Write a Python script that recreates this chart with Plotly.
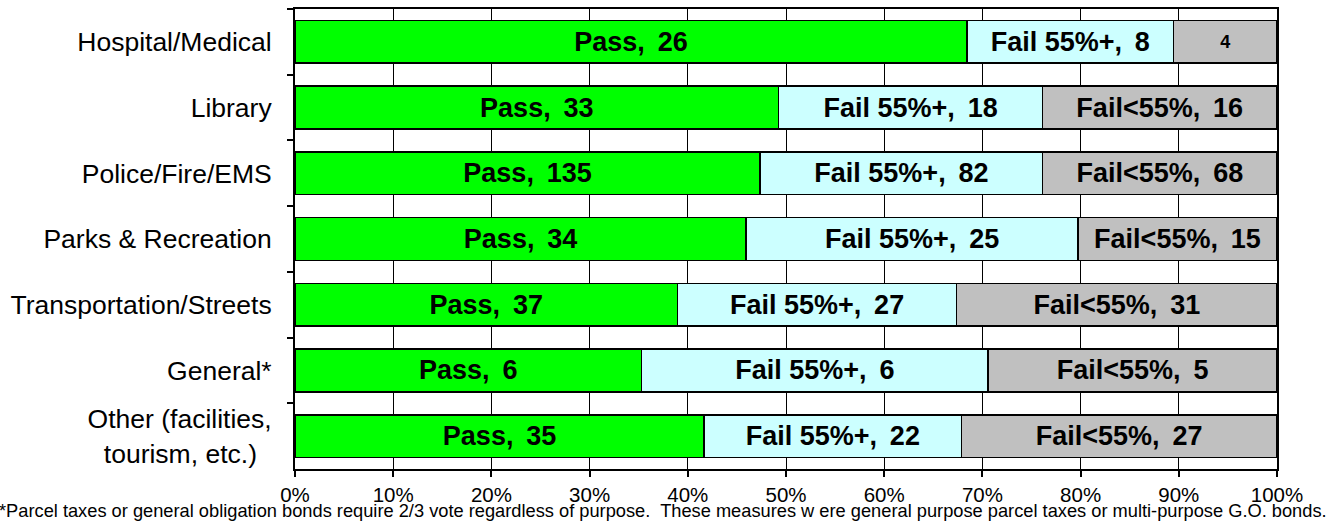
import plotly.graph_objects as go

categories = ["Hospital/Medical", "Library", "Police/Fire/EMS", "Parks & Recreation",
              "Transportation/Streets", "General*", "Other (facilities,<br>tourism, etc.)\u00a0\u00a0"]
pass_counts = [26, 33, 135, 34, 37, 6, 35]
fail55plus_counts = [8, 18, 82, 25, 27, 6, 22]
fail_lt55_counts = [4, 16, 68, 15, 31, 5, 27]

series_names = ["Pass", "Fail 55%+", "Fail<55%"]
series_colors = ["#00FF00", "#CCFFFF", "#C0C0C0"]
x_ticks = [0, 10, 20, 30, 40, 50, 60, 70, 80, 90, 100]
x_ticklabels = ["0%", "10%", "20%", "30%", "40%", "50%", "60%", "70%", "80%", "90%", "100%"]
footnote = ("*Parcel taxes or general obligation bonds require 2/3 vote regardless of purpose.  "
            "These measures w ere general purpose parcel taxes or multi-purpose G.O. bonds.")

FONT = "Liberation Sans, Arial, sans-serif"
fig = go.Figure()
for name, color, vals in zip(series_names, series_colors,
                             [pass_counts, fail55plus_counts, fail_lt55_counts]):
    texts = []
    sizes = []
    for c, v in zip(categories, vals):
        if name == "Fail<55%" and c == "Hospital/Medical":
            texts.append(str(v))
            sizes.append(18)
        else:
            texts.append(f"{name},\u00a0\u2009{v}")
            sizes.append(27)
    fig.add_trace(go.Bar(
        y=categories, x=vals, orientation="h", name=name,
        marker=dict(color=color, line=dict(color="black", width=1.5)),
        text=texts, textposition="inside", insidetextanchor="middle",
        textangle=0,
        textfont=dict(family=FONT, size=sizes, color="black", weight="bold"),
        width=0.65, hoverinfo="skip",
    ))

fig.update_layout(
    barmode="stack", barnorm="percent",
    width=1330, height=522,
    margin=dict(l=295, r=53, t=7, b=53),
    paper_bgcolor="white", plot_bgcolor="white",
    showlegend=False,
    font=dict(family=FONT, color="black"),
    xaxis=dict(range=[0, 100], tickvals=x_ticks, ticktext=x_ticklabels,
               showgrid=True, gridcolor="black", gridwidth=1.2,
               showline=True, linecolor="black", linewidth=2, mirror=True,
               ticks="outside", ticklen=6, tickcolor="black", tickwidth=1.5,
               tickfont=dict(size=20.5), zeroline=False, ticklabelstandoff=0),
    yaxis=dict(autorange="reversed", tickson="boundaries",
               showline=True, linecolor="black", linewidth=2, mirror=True,
               ticks="outside", ticklen=6, tickcolor="black", tickwidth=1.5,
               tickfont=dict(size=26.5), showgrid=False, ticklabelstandoff=16),
    annotations=[dict(text=footnote, xref="paper", yref="paper",
                      x=-298/982, y=-42/462, xanchor="left", yanchor="middle",
                      showarrow=False, font=dict(size=18.25, family=FONT))],
)
fig.write_html("out.html", config={"displayModeBar": False},
               post_script="document.body.style.margin='0';")
